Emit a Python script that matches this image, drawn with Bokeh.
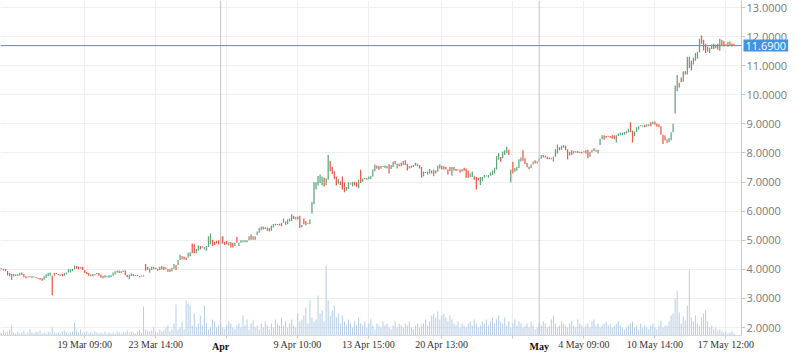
from bokeh.plotting import figure
from bokeh.models import (Range1d, FixedTicker, Span, Label, ColumnDataSource,
                          NumeralTickFormatter, LinearAxis)
from bokeh.embed import file_html
from bokeh.resources import INLINE

# ---------------- data ----------------
opens = [
    4.06,3.93,4.00,4.02,4.01,3.94,3.87,3.64,3.76,3.82,3.78,3.79,3.89,3.84,3.76,3.73,3.76,3.70,3.73,3.73,
    3.71,3.70,3.69,3.64,3.70,3.76,3.78,3.78,3.87,3.85,3.84,3.82,3.84,3.78,3.82,3.89,3.89,3.93,4.00,4.11,
    4.09,4.07,4.09,3.98,3.91,3.87,3.82,3.76,3.80,3.85,3.87,3.82,3.78,3.71,3.73,3.71,3.73,3.78,3.82,3.96,
    3.87,3.93,3.91,3.96,
    3.81,3.66,3.77,3.84,3.78,3.78,3.77,3.76,3.75,4.18,4.09,3.89,3.98,4.09,4.05,4.02,3.98,4.11,4.09,4.00,
    4.02,4.00,3.93,4.02,4.14,4.14,4.32,4.45,4.43,4.41,4.41,4.45,4.89,4.86,4.55,4.64,4.80,4.76,4.68,4.64,
    4.77,4.86,5.02,4.95,4.98,5.00,4.86,5.14,4.95,4.98,4.82,4.93,4.91,4.80,5.11,4.80,4.91,4.93,4.93,4.93,
    5.00,5.20,5.02,5.14,
    5.17,5.26,5.34,5.46,5.39,5.44,5.42,5.33,5.44,5.51,5.53,5.57,5.60,5.60,5.53,5.55,5.64,5.66,5.84,5.71,
    5.82,5.84,5.45,5.75,5.66,5.58,5.55,5.92,6.24,6.74,6.88,6.97,6.88,7.15,6.90,7.08,7.73,7.53,7.37,7.19,
    6.94,7.03,7.19,6.99,6.70,6.76,6.93,6.85,7.01,6.99,6.79,7.42,7.01,7.11,7.08,7.10,7.10,7.19,7.37,7.57,
    7.55,7.46,7.53,7.48,
    7.47,7.61,7.45,7.52,7.72,7.47,7.63,7.66,7.59,7.75,7.63,7.47,7.56,7.52,7.56,7.54,7.59,7.52,7.20,7.32,
    7.26,7.29,7.40,7.20,7.40,7.36,7.47,7.56,7.54,7.52,7.43,7.52,7.22,7.52,7.45,7.41,7.43,7.36,7.49,7.47,
    7.40,7.17,7.17,7.20,7.17,7.15,6.90,7.03,7.15,7.19,7.15,7.22,7.24,7.29,7.43,7.77,7.86,7.82,7.93,8.00,
    8.11,6.99,7.70,
    7.35,7.39,7.48,7.71,8.09,7.82,7.66,7.53,7.48,7.60,7.75,7.71,7.71,7.80,7.84,7.91,7.87,7.84,7.82,7.71,
    7.87,7.98,8.20,8.11,8.18,8.25,8.13,7.91,8.09,7.98,8.03,8.07,8.04,8.04,8.03,8.09,8.11,7.87,8.02,8.16,
    8.09,7.98,8.27,8.47,8.61,8.58,8.57,8.58,8.61,8.61,8.36,8.58,8.61,8.61,8.63,8.67,8.70,9.06,8.76,8.58,
    8.72,8.81,8.92,8.90,8.97,8.90,8.92,9.06,8.99,9.08,9.01,8.99,8.92,8.63,8.60,8.46,8.37,8.44,8.71,9.36,
    10.12,10.41,10.59,10.45,10.81,10.70,10.92,11.17,11.04,11.17,11.24,11.46,12.04,11.89,11.75,11.48,11.44,11.57,11.75,11.60,
    11.75,11.51,11.89,11.84,11.71,11.66,11.82,11.75,11.75,
]
closes = [
    3.96,4.00,4.03,3.96,3.93,3.79,3.76,3.84,3.84,3.77,3.84,3.88,3.81,3.73,3.69,3.72,3.73,3.76,3.72,3.69,
    3.67,3.64,3.61,3.76,3.83,3.88,3.89,3.11,3.78,3.84,3.80,3.78,3.76,3.87,3.89,4.00,4.00,4.02,4.13,4.02,
    4.00,4.02,3.98,3.87,3.84,3.78,3.76,3.84,3.84,3.84,3.78,3.71,3.69,3.80,3.78,3.80,3.80,3.89,3.93,3.89,
    3.96,3.87,3.96,3.80,
    3.73,3.81,3.86,3.77,3.77,3.77,3.73,3.75,3.80,3.95,3.98,4.03,4.09,4.00,4.00,3.95,4.09,4.00,3.98,4.07,
    3.92,3.91,4.05,4.18,3.98,4.32,4.50,4.34,4.34,4.32,4.57,4.59,4.55,4.55,4.70,4.82,4.68,4.75,4.77,4.80,
    5.14,5.23,4.80,4.84,4.89,4.86,5.11,4.89,4.84,4.86,4.93,4.75,4.75,4.91,4.91,4.91,5.00,5.00,5.00,5.00,
    5.14,5.02,5.14,5.02,
    5.30,5.42,5.47,5.37,5.45,5.33,5.30,5.51,5.56,5.57,5.52,5.51,5.48,5.75,5.64,5.71,5.75,5.89,5.73,5.80,
    5.71,5.42,5.52,5.55,5.51,5.57,5.71,6.31,6.99,6.99,7.21,7.26,7.19,6.85,7.12,7.93,7.37,7.28,7.10,6.88,
    7.10,6.90,6.74,6.65,6.83,6.99,6.92,7.01,6.88,6.83,7.08,6.97,7.12,7.10,7.15,7.19,7.21,7.44,7.60,7.46,
    7.42,7.55,7.52,7.57,
    7.56,7.29,7.59,7.70,7.61,7.63,7.54,7.54,7.72,7.59,7.40,7.54,7.49,7.59,7.66,7.63,7.47,7.15,7.36,7.31,
    7.36,7.45,7.29,7.43,7.29,7.56,7.61,7.43,7.43,7.43,7.26,7.38,7.52,7.40,7.38,7.40,7.33,7.45,7.38,7.15,
    7.15,7.29,7.36,7.08,6.74,7.06,7.17,7.17,7.24,7.22,7.24,7.33,7.40,7.49,7.89,8.00,7.70,8.05,8.09,8.21,
    7.93,7.43,7.29,
    7.48,7.53,7.78,7.84,7.73,7.62,7.51,7.44,7.60,7.71,7.64,7.64,7.82,7.93,7.93,7.84,7.78,7.78,7.78,7.87,
    8.13,8.29,8.09,8.25,8.27,8.09,7.78,8.04,7.93,8.07,8.02,8.00,8.00,7.98,8.02,7.98,7.82,8.04,8.11,8.07,
    8.04,8.11,8.49,8.61,8.45,8.52,8.56,8.52,8.49,8.47,8.61,8.67,8.70,8.70,8.72,8.76,8.83,8.72,8.36,8.74,
    8.88,8.92,8.95,8.94,8.88,8.99,8.99,8.92,9.08,8.97,8.90,8.88,8.63,8.31,8.44,8.35,8.51,8.71,9.00,10.32,
    10.68,10.25,10.43,10.81,10.70,11.31,11.31,10.84,11.28,11.44,11.48,11.93,11.75,11.53,11.44,11.66,11.62,11.73,11.57,11.73,
    11.55,11.93,11.69,11.66,11.70,11.82,11.69,11.66,11.69,
]
volumes = [
    3,4,2,5,3,4,6,10,3,2, 4,2,3,5,2,3,6,3,2,4, 3,5,2,3,2,4,3,8,3,2, 3,2,4,5,3,2,3,4,13,5,
    3,6,2,3,4,2,3,2,4,3, 2,3,2,4,2,3,2,3,2,4, 3,2,4,3,5,3,4,3,2,4, 5,3,29,6,5,4,5,8,4,3,
    6,4,5,8,10,4,6,12,31,6, 8,14,6,35,32,30,10,22,8,12, 20,10,30,12,6,8,16,14,8,10, 12,8,6,10,14,12,8,6,10,12,
    8,20,10,16,6,12,15,8,10,6, 12,8,14,10,6,12,8,16,12,10, 18,10,14,8,12,16,10,8,22,14, 16,20,28,12,35,18,14,16,40,22,
    25,14,70,35,20,25,30,18,22,12, 20,14,10,16,12,8,14,10,18,12, 10,14,8,12,16,10,6,12,10,8, 14,10,12,8,6,10,14,8,12,10,
    8,12,10,14,8,6,10,12,8,10, 12,16,10,14,20,22,18,24,16,20, 22,18,14,20,16,12,10,14,8,12, 10,8,12,14,10,16,12,8,10,14,
    12,16,10,14,18,12,16,20,14,12, 18,10,14,8,12,16,10,14,12,8, 10,12,8,14,10,6,8,12,10,14, 12,8,10,16,20,12,8,10,14,12,
    10,8,12,14,10,8,16,12,10,8, 10,12,8,14,16,10,12,8,10,12, 14,10,12,8,10,12,14,10,8,6, 8,10,12,14,8,10,6,12,8,10,
    8,6,10,12,8,6,10,15,8,10, 10,14,20,22,37,45,23,12,19,15, 30,65,18,14,20,12,10,18,22,25, 14,8,10,6,8,5,6,4,3,4,
    2,3,4,2,
]
tick_pos = [43, 78, 113, 148, 183, 219, 254, 289, 324, 359]
tick_labels = ["19 Mar 09:00", "23 Mar 14:00", "", "9 Apr 10:00", "13 Apr 15:00",
               "20 Apr 13:00", "", "4 May 09:00", "10 May 14:00", "17 May 12:00"]
month_pos = [110, 267]
month_labels = ["Apr", "May"]
price_ticks = [2, 3, 4, 5, 6, 7, 8, 9, 10, 11, 12, 13]
last_price = 11.69

UP = "#5fa57f"
DOWN = "#ec5a45"
BLUE = "#4593e0"

n = len(opens)
idx = list(range(n))
bottoms = [min(o, c) for o, c in zip(opens, closes)]
tops = [max(max(o, c), b + 0.035) for o, c, b in zip(opens, closes, bottoms)]
colors = [UP if c >= o else DOWN for o, c in zip(opens, closes)]
src = ColumnDataSource(dict(x=idx, top=tops, bottom=bottoms, color=colors))
vsrc = ColumnDataSource(dict(x=idx, v=volumes))

Y0, Y1 = 1.725, 13.241
X0, X1 = 1.5, 366.7
p = figure(width=790, height=355, output_backend="svg", toolbar_location=None,
           x_range=Range1d(X0, X1), y_range=Range1d(Y0, Y1),
           y_axis_location="right", min_border_left=0, min_border_top=0,
           min_border_bottom=20, min_border_right=0)
p.outline_line_color = None
p.background_fill_color = "white"

p.extra_y_ranges = {"vol": Range1d(0, 335)}
p.vbar(x="x", top="v", bottom=0, width=0.5, source=vsrc, y_range_name="vol",
       fill_color="#a9c4e4", line_color=None, fill_alpha=0.85)

p.vbar(x="x", top="top", bottom="bottom", width=0.62, source=src,
       fill_color="color", line_color=None)

for mp in month_pos:
    p.add_layout(Span(location=mp, dimension="height", line_color="#c3c3c3", line_width=1))
p.add_layout(Span(location=last_price, dimension="width", line_color=BLUE, line_width=1))

# right side: [axis line + ticks] [last-price badge] [tick labels pulled back left]
yax = p.yaxis[0]
yax.ticker = FixedTicker(ticks=price_ticks)
yax.major_label_overrides = {t: "" for t in price_ticks}
yax.axis_line_color = "#c8c8c8"
yax.major_tick_line_color = "#c8c8c8"
yax.major_tick_out = 4
yax.major_tick_in = 0
yax.minor_tick_line_color = None
yax.major_label_standoff = 0
yax.axis_label_standoff = 0

p.add_layout(Label(x=X1, y=last_price, x_units="data", y_units="data",
                   text=f"{last_price:.4f}", text_align="left", text_baseline="middle",
                   x_offset=2, text_font="Open Sans", text_font_size="11px",
                   text_color="white", background_fill_color=BLUE,
                   padding=2), "right")

ylab = LinearAxis(ticker=FixedTicker(ticks=price_ticks),
                  formatter=NumeralTickFormatter(format="0.0000"))
ylab.major_label_text_font = "Open Sans"
ylab.major_label_text_font_size = "11px"
ylab.major_label_text_color = "#7a7a7a"
ylab.axis_line_color = None
ylab.major_tick_line_color = None
ylab.minor_tick_line_color = None
ylab.major_tick_out = 0
ylab.major_tick_in = 0
ylab.major_label_standoff = -44
ylab.axis_label_standoff = 0
p.add_layout(ylab, "right")

# x axis
xax = p.xaxis[0]
xax.ticker = FixedTicker(ticks=tick_pos)
xax.major_label_overrides = {t: l for t, l in zip(tick_pos, tick_labels)}
xax.major_label_text_font = "Liberation Serif"
xax.major_label_text_font_size = "10px"
xax.major_label_text_color = "#333333"
xax.axis_line_color = "#d8d8d8"
xax.major_tick_line_color = "#c8c8c8"
xax.major_tick_out = 3
xax.major_tick_in = 0
xax.minor_tick_line_color = None
xax.major_label_standoff = 0
xax.axis_label_standoff = 0

# month labels: second bottom axis, labels pulled up to the same row
max_ = LinearAxis(ticker=FixedTicker(ticks=month_pos))
max_.major_label_overrides = {t: l for t, l in zip(month_pos, month_labels)}
max_.major_label_text_font = "Liberation Serif"
max_.major_label_text_font_size = "10px"
max_.major_label_text_font_style = "bold"
max_.major_label_text_color = "#111111"
max_.axis_line_color = None
max_.major_tick_line_color = None
max_.minor_tick_line_color = None
max_.major_tick_out = 0
max_.major_tick_in = 0
max_.major_label_standoff = -12
max_.axis_label_standoff = 0
p.add_layout(max_, "below")

p.xgrid.grid_line_color = "#efefef"
p.ygrid.grid_line_color = "#efefef"

open("out.html", "w").write(file_html(p, INLINE))
